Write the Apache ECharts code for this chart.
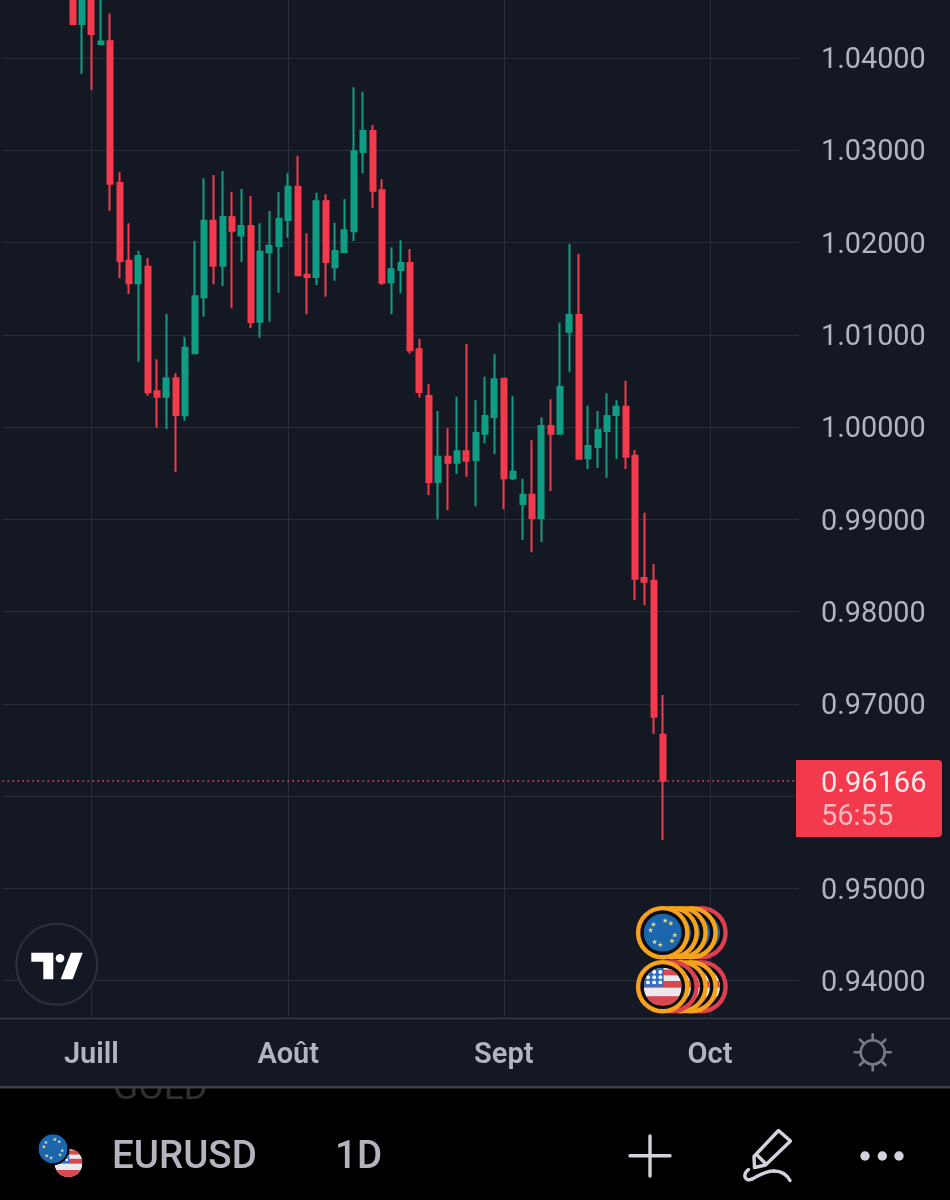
<!DOCTYPE html>
<html>
<head>
<meta charset="utf-8">
<title>EURUSD 1D</title>
<script src="https://cdn.jsdelivr.net/npm/echarts@6/dist/echarts.min.js"></script>
<style>
  html, body { margin: 0; padding: 0; background: #000; }
  #main { width: 950px; height: 1200px; }
</style>
</head>
<body>
<div id="main"></div>
<script>
var opens = [1.04845,1.04368,1.04683,1.04152,1.04181,1.02645,1.01803,1.01558,1.01738,1.00388,1.00329,1.00529,1.00128,1.00800,1.01406,1.02237,
  1.01749,1.02273,1.02076,1.02179,1.01142,1.01894,1.01962,1.02244,1.02605,1.01651,1.01626,1.02447,1.01732,1.01897,1.02122,1.02981,
  1.03209,1.02566,1.01569,1.01702,1.01778,1.00843,1.00337,0.99405,0.99679,0.99614,0.99737,0.99643,0.99928,1.00109,1.00524,0.99445,
  0.99166,0.99267,0.99015,1.00012,0.99928,1.01034,1.01215,0.99662,0.99784,0.99957,1.00131,1.00221,0.99690,0.98364,0.98335,0.96666];
var closes = [1.04368,1.04737,1.04260,1.04179,1.02638,1.01800,1.01558,1.01854,1.00377,1.00329,1.00529,1.00131,1.00860,1.01417,1.02237,1.01749,
  1.02277,1.02128,1.02179,1.01139,1.01901,1.01966,1.02255,1.02605,1.01645,1.01626,1.02447,1.01789,1.01908,1.02133,1.02989,1.03209,
  1.02562,1.01565,1.01710,1.01778,1.00832,1.00380,0.99405,0.99679,0.99614,0.99737,0.99636,0.99936,1.00120,1.00518,0.99445,0.99516,
  0.99267,0.99015,1.00012,0.99928,1.00434,1.01215,0.99657,0.99795,0.99968,1.00120,1.00221,0.99679,0.98357,0.98324,0.96861,0.96166];
var lows = [1.04354,1.03827,1.03653,1.04146,1.02345,1.01612,1.01442,1.00709,1.00340,0.99993,0.99979,0.99516,1.00069,1.00789,1.01196,1.01547,
  1.01529,1.01287,1.01789,1.01074,1.00969,1.01142,1.01456,1.02052,1.01637,1.01222,1.01540,1.01413,1.01586,1.01883,1.02017,1.02750,
  1.02378,1.01540,1.01222,1.01450,1.00797,1.00318,0.99264,0.99000,0.99098,0.99491,0.99462,0.99141,0.99824,0.99708,0.99109,0.99423,
  0.98776,0.98643,0.98754,0.99307,0.99922,1.00594,0.99654,0.99546,0.99556,0.99451,0.99654,0.99546,0.98126,0.98068,0.96673,0.95525];
var highs = [1.04954,1.04900,1.04791,1.04715,1.04484,1.02761,1.02208,1.01911,1.01832,1.00735,1.01225,1.00583,1.00979,1.02017,1.02696,1.02732,
  1.02775,1.02551,1.02580,1.02504,1.02208,1.02342,1.02544,1.02750,1.02941,1.02100,1.02540,1.02523,1.02215,1.02472,1.03682,1.03635,
  1.03274,1.02685,1.01948,1.02024,1.01930,1.00958,1.00464,1.00174,0.99987,1.00329,1.00900,1.00290,1.00546,1.00789,1.00535,1.00337,
  0.99440,0.99857,1.00106,1.00301,1.01131,1.01984,1.01876,1.00232,1.00174,1.00366,1.00290,1.00503,0.99752,0.99072,0.98516,0.97096];
var priceTicks = [0.94,0.95,0.96,0.97,0.98,0.99,1.00,1.01,1.02,1.03,1.04];
var monthNames = ['Juill','Août','Sept','Oct'];
var monthSlots = [9,30,53,75];   // slot of the first trading day of each month
var slotCount = 85;
var firstCandleSlot = 7;
var lastPrice = 0.96166;
var lastPriceText = '0.96166';
var countdownText = '56:55';
var symbolText = 'EURUSD';
var intervalText = '1D';
var hiddenRowText = 'GOLD';

var upColor = '#0f9d84';
var downColor = '#f23a4c';
var panelColor = '#141823';
var gridColor = '#2a2e39';
var borderColor = '#363a45';
var textColor = '#b2b5be';
var font = 'Roboto';

var categories = [];
for (var s = 0; s < slotCount; s++) {
  var m = monthSlots.indexOf(s);
  categories.push(m >= 0 ? monthNames[m] : '');
}
var candles = [];
for (var b = 0; b < firstCandleSlot; b++) candles.push('-');
opens.forEach(function (o, i) {
  candles.push([o, closes[i], lows[i], highs[i]]);
});
function onlyMonths(index, value) { return value !== ''; }

// flags for the event bubbles and symbol badge
function euFlag() {
  var stars = '';
  for (var i = 0; i < 12; i += 1) {
    if (i % 3 == 2) continue;
    var a = i * Math.PI / 6 + 0.2;
    var px = 20 + 13 * Math.cos(a), py = 20 + 13 * Math.sin(a), pts = [];
    for (var j = 0; j < 10; j++) {
      var r = j % 2 ? 1.2 : 3, t = j * Math.PI / 5 - Math.PI / 2;
      pts.push((px + r * Math.cos(t)) + ',' + (py + r * Math.sin(t)));
    }
    stars += '<polygon points="' + pts.join(' ') + '" fill="#dcdc8c"/>';
  }
  return svgUri('<circle cx="20" cy="20" r="20" fill="#1c66ae"/>' + stars);
}
function usFlag() {
  var body = '<rect width="40" height="40" fill="#e9e9ee"/>';
  body += '<rect y="2" width="40" height="6" fill="#d9484f"/><rect y="14" width="40" height="7" fill="#d9484f"/>';
  body += '<rect y="30" width="40" height="10" fill="#d9484f"/>';
  body += '<rect width="21" height="20" fill="#2f6fc4"/>';
  for (var r = 0; r < 3; r++) for (var c = 0; c < 3; c++) {
    body += '<circle cx="' + (4.5 + c * 6.5) + '" cy="' + (4.5 + r * 5.5) + '" r="2" fill="#fff"/>';
  }
  return svgUri('<defs><clipPath id="c"><circle cx="20" cy="20" r="20"/></clipPath></defs><g clip-path="url(#c)">' + body + '</g>');
}
function svgUri(inner) {
  return 'data:image/svg+xml;charset=utf-8,' + encodeURIComponent(
    '<svg xmlns="http://www.w3.org/2000/svg" width="80" height="80" viewBox="0 0 40 40">' + inner + '</svg>');
}
var euImg = euFlag();
var usImg = usFlag();

function bubble(cx, cy, ring, img) {
  return [
    { type: 'circle', z: 10, shape: { cx: cx, cy: cy, r: 24.6 }, style: { fill: '#0c0e14', stroke: ring, lineWidth: 4.4 } },
    { type: 'image', z: 10, style: { image: img, x: cx - 19, y: cy - 19, width: 38, height: 38 } }
  ];
}
var bubbles = [];
[[701, '#dc3f4f'], [691, '#f7a21b'], [681, '#f7a21b'], [672, '#f7a21b'], [662.7, '#f7a21b']].forEach(function (b) {
  bubbles = bubbles.concat(bubble(b[0], 932.7, b[1], euImg));
});
[[701, '#dc3f4f'], [691, '#f7a21b'], [681, '#f7a21b'], [672, '#dc3f4f'], [662.7, '#f7a21b']].forEach(function (b) {
  bubbles = bubbles.concat(bubble(b[0], 986.7, b[1], usImg));
});

// little sun in the axis corner
var sun = [{ type: 'circle', z: 10, shape: { cx: 872.7, cy: 1052.3, r: 12 }, style: { fill: 'none', stroke: '#787b86', lineWidth: 2.6 } }];
for (var k = 0; k < 8; k++) {
  var ang = k * Math.PI / 4;
  sun.push({ type: 'line', z: 10,
    shape: { x1: 872.7 + 12 * Math.cos(ang), y1: 1052.3 + 12 * Math.sin(ang), x2: 872.7 + 18 * Math.cos(ang), y2: 1052.3 + 18 * Math.sin(ang) },
    style: { stroke: '#787b86', lineWidth: 2.6, lineCap: 'round' } });
}

var toolStyle = { fill: 'none', stroke: '#d1d4dc', lineWidth: 3.4, lineCap: 'round', lineJoin: 'round' };

var chrome = [
  // bottom toolbar, the next row of the list peeks out under the chart panel
  { type: 'rect', z: 1, shape: { x: 0, y: 1087, width: 950, height: 113 }, style: { fill: '#000' } },
  { type: 'text', z: 2, style: { text: hiddenRowText, x: 113, y: 1090, fill: '#2f2f31', font: '37px ' + font, textAlign: 'left', textVerticalAlign: 'middle' } },
  { type: 'rect', z: 3, shape: { x: 0, y: 1070, width: 950, height: 17 }, style: { fill: panelColor } },
  { type: 'rect', z: 7, shape: { x: 0, y: 1086, width: 950, height: 2.5 }, style: { fill: '#3c4047' } },
  // axis border runs under the price scale too
  { type: 'line', z: 8, shape: { x1: 0, y1: 1018.5, x2: 950, y2: 1018.5 }, style: { stroke: borderColor, lineWidth: 1.5 } },

  // tradingview badge
  { type: 'circle', z: 10, shape: { cx: 56.7, cy: 964.3, r: 40.5 }, style: { fill: panelColor, stroke: '#2e323d', lineWidth: 2 } },
  { type: 'polygon', z: 10, shape: { points: [[31.3,952.7],[53.3,952.7],[53.3,979.3],[43.3,979.3],[43.3,961.7],[31.3,961.7]] }, style: { fill: '#fff' } },
  { type: 'circle', z: 10, shape: { cx: 60, cy: 958.3, r: 4.3 }, style: { fill: '#fff' } },
  { type: 'polygon', z: 10, shape: { points: [[71,952.7],[82.7,952.7],[72.7,979.3],[60.7,979.3]] }, style: { fill: '#fff' } },

  // last price tag
  { type: 'rect', z: 10, shape: { x: 796, y: 760, width: 146, height: 77, r: [0, 4, 4, 0] }, style: { fill: '#f23a4c' } },
  { type: 'text', z: 11, style: { text: lastPriceText, x: 821, y: 785, fill: '#fde9eb', font: '29px ' + font, textVerticalAlign: 'middle' } },
  { type: 'text', z: 11, style: { text: countdownText, x: 821, y: 818, fill: '#fbb9bf', font: '29px ' + font, textVerticalAlign: 'middle' } },

  // symbol + interval
  { type: 'image', z: 9, style: { image: usImg, x: 54.5, y: 1149, width: 28, height: 28 } },
  { type: 'circle', z: 10, shape: { cx: 53, cy: 1148.7, r: 16.5 }, style: { fill: '#000' } },
  { type: 'image', z: 11, style: { image: euImg, x: 38.5, y: 1134.2, width: 29, height: 29 } },
  { type: 'text', z: 10, style: { text: symbolText, x: 112, y: 1158, fill: textColor, font: '500 38.5px ' + font, textVerticalAlign: 'middle' } },
  { type: 'text', z: 10, style: { text: intervalText, x: 335, y: 1158, fill: textColor, font: '500 38.5px ' + font, textVerticalAlign: 'middle' } },

  // toolbar icons
  { type: 'line', z: 10, shape: { x1: 630, y1: 1155.7, x2: 670, y2: 1155.7 }, style: toolStyle },
  { type: 'line', z: 10, shape: { x1: 650, y1: 1136, x2: 650, y2: 1176 }, style: toolStyle },
  { type: 'polygon', z: 10, shape: { points: [[778.5,1130.5],[790.5,1141],[765.5,1165],[754.5,1167.5],[754,1156.5]] }, style: toolStyle },
  { type: 'line', z: 10, shape: { x1: 757, y1: 1155, x2: 766, y2: 1164 }, style: toolStyle },
  { type: 'bezierCurve', z: 10, shape: { x1: 748.5, y1: 1169.5, cpx1: 742, cpy1: 1175, cpx2: 745, cpy2: 1182, x2: 752, y2: 1179 }, style: toolStyle },
  { type: 'bezierCurve', z: 10, shape: { x1: 752, y1: 1179, cpx1: 760, cpy1: 1175, cpx2: 765, cpy2: 1171, x2: 774, y2: 1171 }, style: toolStyle },
  { type: 'bezierCurve', z: 10, shape: { x1: 774, y1: 1171, cpx1: 781, cpy1: 1171, cpx2: 787, cpy2: 1175, x2: 790, y2: 1180.5 }, style: toolStyle },
  { type: 'circle', z: 10, shape: { cx: 865, cy: 1156, r: 4.7 }, style: { fill: '#d1d4dc' } },
  { type: 'circle', z: 10, shape: { cx: 882.3, cy: 1156, r: 4.7 }, style: { fill: '#d1d4dc' } },
  { type: 'circle', z: 10, shape: { cx: 899, cy: 1156, r: 4.7 }, style: { fill: '#d1d4dc' } }
];

var myChart = echarts.init(document.getElementById('main'), null, { renderer: 'canvas' });
var option = {
  animation: false,
  backgroundColor: panelColor,
  grid: { left: 2.4, top: 0, width: 796.6, height: 1018.5, containLabel: false },
  xAxis: {
    type: 'category',
    data: categories,
    boundaryGap: true,
    axisLine: { show: false },
    axisTick: { show: false },
    axisLabel: {
      interval: onlyMonths,
      color: textColor,
      fontFamily: font,
      fontSize: 29,
      fontWeight: 600,
      margin: 23,
      hideOverlap: false
    },
    splitLine: {
      show: true,
      interval: onlyMonths,
      alignWithLabel: true,
      lineStyle: { color: gridColor, width: 1.2 }
    }
  },
  yAxis: {
    type: 'value',
    position: 'right',
    min: 0.93590,
    max: 1.04629,
    scale: true,
    axisLine: { show: false },
    axisTick: { show: false, customValues: priceTicks },
    axisLabel: {
      customValues: priceTicks,
      color: textColor,
      fontFamily: font,
      fontSize: 28.8,
      lineHeight: 29,
      margin: 22,
      verticalAlign: 'top',
      padding: [-11.5, 0, 0, 0],
      formatter: function (v) { return v.toFixed(5); }
    },
    splitLine: { show: true, lineStyle: { color: gridColor, width: 1.2 } }
  },
  graphic: { elements: bubbles.concat(sun).concat(chrome) },
  series: [{
    type: 'candlestick',
    data: candles,
    barWidth: 5.5,
    itemStyle: {
      color: upColor,
      color0: downColor,
      borderColor: upColor,
      borderColor0: downColor,
      borderWidth: 2
    },
    markLine: {
      silent: true,
      precision: 5,
      symbol: 'none',
      label: { show: false },
      lineStyle: { color: '#ef4a5a', width: 1.6, type: [1.6, 3.4] },
      data: [{ yAxis: lastPrice }]
    }
  }]
};
myChart.setOption(option);
</script>
</body>
</html>
